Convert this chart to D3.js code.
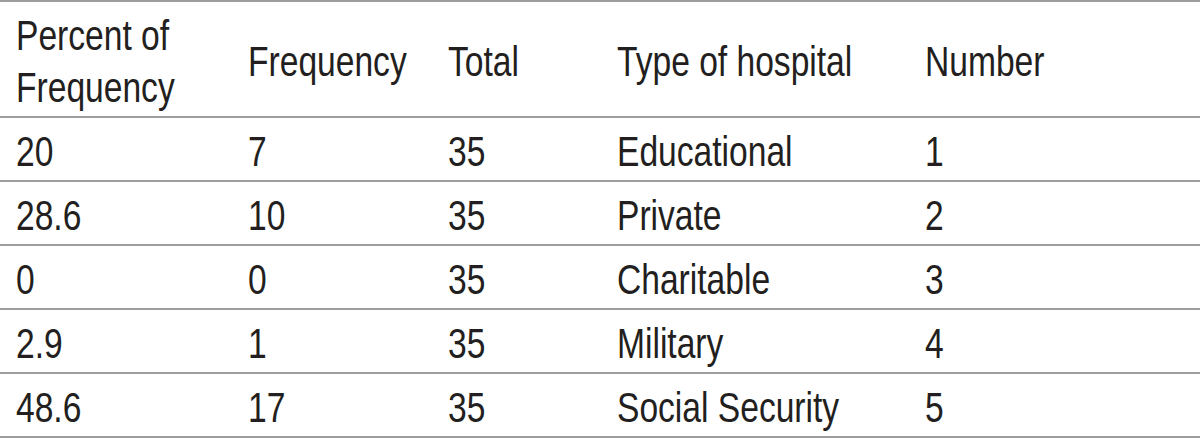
<!DOCTYPE html>
<html>
<head>
<meta charset="utf-8">
<script src="https://cdn.jsdelivr.net/npm/d3@7"></script>
<style>
  html, body { margin: 0; padding: 0; background: #fff; }
  text { font-family: "Liberation Sans", Arial, sans-serif; fill: #231f20; }
</style>
</head>
<body>
<div id="container"></div>
<script>
"use strict";

// table data
const headers = [["Percent of", "Frequency"], ["Frequency"], ["Total"], ["Type of hospital"], ["Number"]];
const percentOfFrequency = ["20", "28.6", "0", "2.9", "48.6"];
const frequency = ["7", "10", "0", "1", "17"];
const total = ["35", "35", "35", "35", "35"];
const hospitalType = ["Educational", "Private", "Charitable", "Military", "Social Security"];
const number = ["1", "2", "3", "4", "5"];

const width = 1200;
const height = 438;
const headerTop = 1;
const headerBottom = 117;
const rowHeight = 64;
const fontSize = 42;
const squeeze = 0.8; // the original face is condensed
const colX = [16, 248, 448, 617, 925];

const rows = percentOfFrequency.map((p, i) => [p, frequency[i], total[i], hospitalType[i], number[i]]);

const svg = d3.select("#container")
  .append("svg")
  .attr("width", width)
  .attr("height", height);

const y = d3.scaleBand()
  .domain(d3.range(rows.length))
  .range([headerBottom, headerBottom + rowHeight * rows.length])
  .padding(0);

// rules
const ruleYs = [headerTop, headerBottom].concat(rows.map((d, i) => y(i) + y.bandwidth()));
svg.selectAll("line.rule")
  .data(ruleYs)
  .enter()
  .append("line")
  .attr("class", "rule")
  .attr("x1", 0)
  .attr("x2", width)
  .attr("y1", (d) => d)
  .attr("y2", (d) => d)
  .attr("stroke", "#9d9d9d")
  .attr("stroke-width", 2);

const cellText = (sel, x, yy, s) => sel.append("text")
  .attr("transform", `translate(${x},${yy}) scale(${squeeze},1)`)
  .attr("font-size", fontSize)
  .text(s);

// header
const headerMid = (headerTop + headerBottom) / 2;
const lineGap = 52;
headers.forEach((lines, c) => {
  lines.forEach((s, k) => {
    const baseline = headerMid + 17 + (k - (lines.length - 1) / 2) * lineGap;
    cellText(svg, colX[c], baseline, s);
  });
});

// body cells
rows.forEach((row, i) => {
  const g = svg.append("g")
    .attr("class", "row")
    .attr("transform", `translate(0,${y(i) + y.bandwidth() / 2 + 17})`);
  row.forEach((s, c) => cellText(g, colX[c], 0, s));
});
</script>
</body>
</html>
